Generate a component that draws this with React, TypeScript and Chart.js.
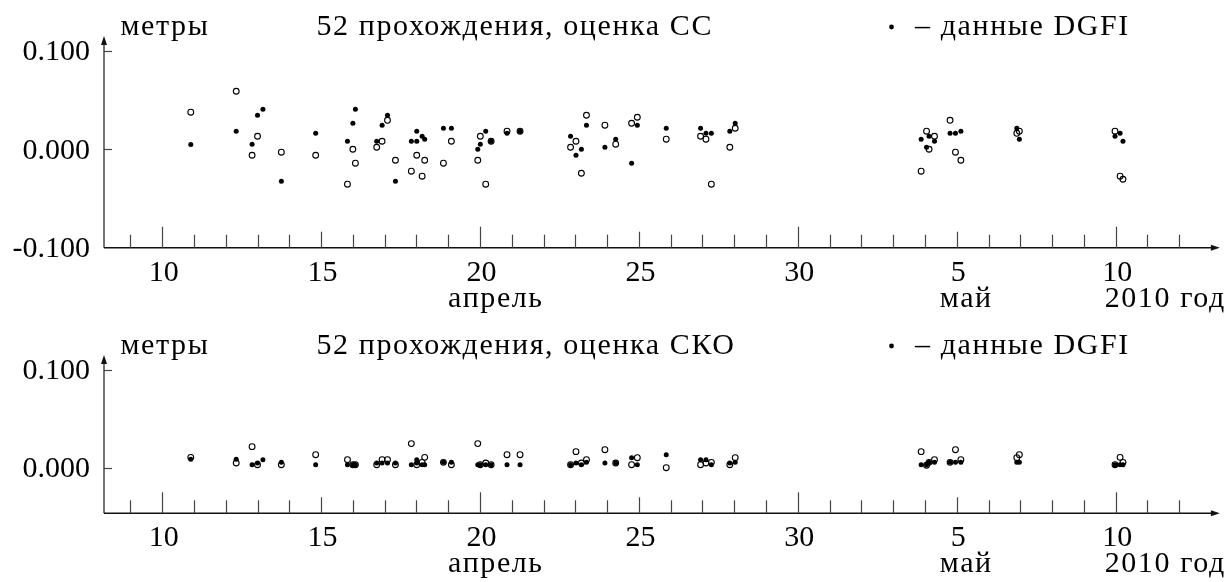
import React, { useEffect, useRef } from "react";
import { Chart, registerables } from "chart.js";

Chart.register(...registerables);

const FONT_FAMILY = '"Liberation Serif", "Times New Roman", serif';
const FONT_SIZE = 30;
const WORD_SPACING = "1.6px";

// Days are counted from 1 April 2010 (1 May = day 31).
const xMin = 8.17;
const xMax = 43.28;
const lastTickDay = 42;
const xLabelDays = [10, 15, 20, 25, 30, 35, 40];
const xLabelTexts = ["10", "15", "20", "25", "30", "5", "10"];

const yTicks = [0.1, 0.0];
const yTickTexts = ["0.100", "0.000"];

// Upper panel: СС estimate (metres)
const ccDgfiDays = [
  10.9, 12.33, 12.83, 13.0, 13.17, 13.75, 14.83, 15.83, 16.0, 16.08, 16.75, 16.92, 17.09,
  17.34, 17.84, 18.01, 18.01, 18.18, 18.26, 18.85, 19.1, 19.93, 20.01, 20.18, 20.35, 20.85,
  21.26, 22.85, 23.02, 23.19, 23.35, 23.93, 24.27, 24.77, 24.95, 25.86, 26.94, 27.11, 27.28,
  27.86, 28.03, 33.88, 34.05, 34.13, 34.3, 34.79, 34.96, 35.13, 36.89, 36.97, 39.98, 40.14,
  40.23,
];
const ccDgfiValues = [
  0.0048, 0.0183, 0.0051, 0.0345, 0.0406, -0.0325, 0.0162, 0.0081, 0.0264, 0.0406, 0.0081,
  0.0244, 0.0345, -0.0325, 0.0081, 0.0081, 0.0183, 0.0132, 0.0102, 0.0213, 0.0213, 0.0, 0.0051,
  0.0183, 0.0081, 0.0163, 0.0183, 0.0132, -0.0061, 0.0, 0.0244, 0.002, 0.0102, -0.0142, 0.0244,
  0.0213, 0.0213, 0.0162, 0.0162, 0.0183, 0.0264, 0.0102, 0.002, 0.0132, 0.0081, 0.0162,
  0.0162, 0.0183, 0.0213, 0.0102, 0.0132, 0.0162, 0.0081,
];
const ccOwnDays = [
  10.9, 12.33, 12.83, 13.0, 13.75, 14.83, 15.83, 16.0, 16.08, 16.75, 16.92, 17.09, 17.34,
  17.84, 18.01, 18.18, 18.26, 18.85, 19.1, 19.93, 20.01, 20.18, 20.35, 20.85, 21.26, 22.85,
  23.02, 23.19, 23.35, 23.93, 24.27, 24.77, 24.95, 25.86, 26.94, 27.11, 27.28, 27.86, 28.03,
  33.88, 34.05, 34.13, 34.3, 34.79, 34.96, 35.13, 36.89, 36.97, 39.98, 40.14, 40.23,
];
const ccOwnValues = [
  0.0376, 0.0589, -0.0061, 0.0132, -0.003, -0.0061, -0.0355, 0.0, -0.0142, 0.002, 0.0081,
  0.0294, -0.0112, -0.0223, -0.0061, -0.0274, -0.0112, -0.0142, 0.0081, -0.0112, 0.0132,
  -0.0355, 0.0081, 0.0183, 0.0183, 0.002, 0.0081, -0.0244, 0.0345, 0.0244, 0.0051, 0.0264,
  0.0325, 0.0102, 0.0132, 0.0102, -0.0355, 0.002, 0.0213, -0.0223, 0.0183, 0.0, 0.0132, 0.0294,
  -0.003, -0.0112, 0.0162, 0.0183, 0.0183, -0.0274, -0.0305,
];

// Lower panel: СКО estimate (metres)
const skoDgfiDays = ccDgfiDays;
const skoDgfiValues = [
  0.0086, 0.0086, 0.0031, 0.0048, 0.0082, 0.0055, 0.0031, 0.0031, 0.0031, 0.0031, 0.0048,
  0.0048, 0.0048, 0.0048, 0.0031, 0.0082, 0.0048, 0.0031, 0.0031, 0.0055, 0.0055, 0.0031,
  0.0031, 0.0031, 0.0031, 0.0031, 0.0031, 0.0031, 0.0048, 0.0031, 0.0055, 0.0048, 0.0048,
  0.0102, 0.0031, 0.0133, 0.0082, 0.0082, 0.0031, 0.0048, 0.0055, 0.0031, 0.0031, 0.0055,
  0.0055, 0.0055, 0.0055, 0.0055, 0.0055, 0.0055, 0.0031, 0.0031, 0.0031,
];
const skoOwnDays = ccOwnDays;
const skoOwnValues = [
  0.0106, 0.0048, 0.0215, 0.0031, 0.0031, 0.0133, 0.0082, 0.0031, 0.0031, 0.0031, 0.0082,
  0.0082, 0.0031, 0.0246, 0.0031, 0.0055, 0.0106, 0.0055, 0.0031, 0.0246, 0.0031, 0.0048,
  0.0031, 0.0133, 0.0133, 0.0031, 0.0164, 0.0048, 0.0082, 0.0184, 0.0048, 0.0031, 0.0102, 0.0,
  0.0031, 0.0048, 0.0055, 0.0031, 0.0102, 0.0164, 0.0025, 0.0055, 0.0082, 0.0055, 0.0184,
  0.0082, 0.0102, 0.0133, 0.0031, 0.0106, 0.0055,
];

type PanelProps = {
  top: number;
  height: number;
  axisY: number;
  title: string;
  dgfiDays: number[];
  dgfiValues: number[];
  ownDays: number[];
  ownValues: number[];
  yMin: number;
  yMax: number;
  bottomLabel: string | null;
};

const toPoints = (days: number[], values: number[]) =>
  days.map((d, i) => ({ x: d, y: values[i] }));

function Panel(props: PanelProps) {
  const ref = useRef<HTMLCanvasElement | null>(null);

  useEffect(() => {
    const canvas = ref.current;
    if (!canvas) return;
    const font = `${FONT_SIZE}px ${FONT_FAMILY}`;

    const frame = {
      id: "panelFrame",
      beforeDatasetsDraw(chart: any) {
        const { ctx, chartArea } = chart;
        const x = chart.scales.x;
        const y = chart.scales.y;
        const left = chartArea.left;
        const right = chartArea.right;
        const bottom = chartArea.bottom;
        const topY = chartArea.top;
        ctx.save();

        // vertical axis with arrow
        ctx.strokeStyle = "#3a3a3a";
        ctx.lineWidth = 1.4;
        ctx.beginPath();
        ctx.moveTo(left, bottom);
        ctx.lineTo(left, topY + 8);
        ctx.stroke();
        ctx.fillStyle = "#111";
        ctx.beginPath();
        ctx.moveTo(left, topY);
        ctx.lineTo(left - 3, topY + 9);
        ctx.lineTo(left + 3, topY + 9);
        ctx.closePath();
        ctx.fill();

        // horizontal axis with arrow
        ctx.strokeStyle = "#111";
        ctx.lineWidth = 1.6;
        ctx.beginPath();
        ctx.moveTo(left, bottom);
        ctx.lineTo(right - 7, bottom);
        ctx.stroke();
        ctx.beginPath();
        ctx.moveTo(right, bottom);
        ctx.lineTo(right - 9, bottom - 3);
        ctx.lineTo(right - 9, bottom + 3);
        ctx.closePath();
        ctx.fill();

        // day ticks
        ctx.strokeStyle = "#444";
        ctx.lineWidth = 1.2;
        for (let d = Math.ceil(xMin); d <= lastTickDay; d++) {
          const px = Math.round(x.getPixelForValue(d)) + 0.5;
          const len = d % 10 === 0 ? 21 : d % 5 === 0 ? 16 : 13;
          ctx.beginPath();
          ctx.moveTo(px, bottom);
          ctx.lineTo(px, bottom - len);
          ctx.stroke();
        }

        // value ticks
        yTicks.forEach((v) => {
          const py = Math.round(y.getPixelForValue(v)) + 0.5;
          ctx.beginPath();
          ctx.moveTo(left, py);
          ctx.lineTo(left + 8, py);
          ctx.stroke();
        });

        // numbers
        ctx.fillStyle = "#000";
        ctx.font = font;
        ctx.textAlign = "right";
        ctx.textBaseline = "middle";
        yTicks.forEach((v, i) => {
          ctx.fillText(yTickTexts[i], 90, y.getPixelForValue(v) + 1.5);
        });
        if (props.bottomLabel) {
          ctx.fillText(props.bottomLabel, 90, bottom + 1);
        }
        ctx.textAlign = "center";
        xLabelDays.forEach((d, i) => {
          ctx.fillText(xLabelTexts[i], x.getPixelForValue(d) + 1.5, bottom + 25);
        });

        // words
        ctx.letterSpacing = WORD_SPACING;
        ctx.fillText("апрель", x.getPixelForValue(20.5), bottom + 51);
        ctx.fillText("май", x.getPixelForValue(35.3), bottom + 51);
        ctx.textAlign = "left";
        ctx.fillText("2010 год", x.getPixelForValue(40) - 11, bottom + 51);

        ctx.textBaseline = "alphabetic";
        ctx.fillText("метры", 120.5, 35);
        ctx.fillText(props.title, 316.5, 35);
        ctx.fillText("– данные DGFI", 915, 35);
        ctx.letterSpacing = "0px";
        ctx.beginPath();
        ctx.arc(891.5, 27, 2.4, 0, Math.PI * 2);
        ctx.fill();

        ctx.restore();
      },
    };

    const chart = new Chart(canvas, {
      type: "scatter",
      data: {
        datasets: [
          {
            label: "DGFI",
            data: toPoints(props.dgfiDays, props.dgfiValues),
            pointRadius: 2.5,
            pointBorderWidth: 0,
            pointBackgroundColor: "#000",
            pointBorderColor: "#000",
          },
          {
            label: "оценка",
            data: toPoints(props.ownDays, props.ownValues),
            pointRadius: 2.9,
            pointBorderWidth: 1.1,
            pointBackgroundColor: "rgba(255,255,255,0)",
            pointBorderColor: "#000",
          },
        ],
      },
      options: {
        responsive: false,
        animation: false,
        devicePixelRatio: 1,
        layout: {
          padding: { left: 104, right: 2, top: 36, bottom: props.height - props.axisY },
        },
        plugins: { legend: { display: false }, tooltip: { enabled: false } },
        scales: {
          x: { type: "linear", min: xMin, max: xMax, display: false },
          y: { type: "linear", min: props.yMin, max: props.yMax, display: false },
        },
      },
      plugins: [frame],
    } as any);

    return () => chart.destroy();
  }, []);

  return (
    <canvas
      ref={ref}
      width={1225}
      height={props.height}
      style={{ position: "absolute", left: 0, top: props.top, display: "block" }}
    />
  );
}

export default function App() {
  return (
    <div style={{ position: "absolute", left: 0, top: 0, width: 1225, height: 582, background: "#fff" }}>
      <Panel
        top={0}
        height={319}
        axisY={247.7}
        title="52 прохождения, оценка СС"
        dgfiDays={ccDgfiDays}
        dgfiValues={ccDgfiValues}
        ownDays={ccOwnDays}
        ownValues={ccOwnValues}
        yMin={-0.1}
        yMax={0.115}
        bottomLabel="-0.100"
      />
      <Panel
        top={319}
        height={263}
        axisY={194.3}
        title="52 прохождения, оценка СКО"
        dgfiDays={skoDgfiDays}
        dgfiValues={skoDgfiValues}
        ownDays={skoOwnDays}
        ownValues={skoOwnValues}
        yMin={-0.0465}
        yMax={0.115}
        bottomLabel={null}
      />
    </div>
  );
}
